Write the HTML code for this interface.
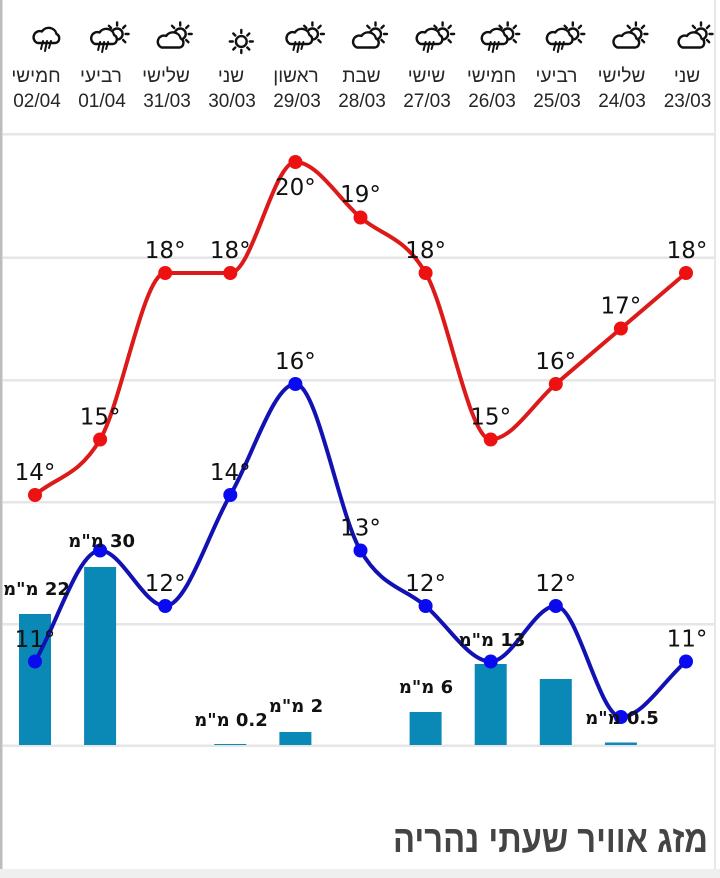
<!DOCTYPE html>
<html><head><meta charset="utf-8">
<style>
html,body{margin:0;padding:0;background:#fff;}
body{width:720px;height:878px;position:relative;overflow:hidden;}
svg{position:absolute;left:0;top:0;}
.pl{position:absolute;width:120px;text-align:center;font-family:"DejaVu Sans","Liberation Sans",sans-serif;font-weight:bold;font-size:18px;line-height:20px;color:#111;white-space:nowrap;}
</style></head>
<body>
<svg width="720" height="878" viewBox="0 0 720 878" xmlns="http://www.w3.org/2000/svg">
<defs>
<path id="cloud" d="M -9.5 0 H 8.5 A 4.8 4.8 0 0 0 9.5 -9 A 8 8 0 0 0 -5 -11.5 A 5.8 5.8 0 0 0 -9.5 0 Z" fill="#fff" stroke="#111" stroke-width="2.4" stroke-linejoin="round"/>
<g id="sunrays" stroke="#111" stroke-width="2.4" stroke-linecap="round">
<line x1="0" y1="-8.5" x2="0" y2="-11.5"/>
<line x1="6" y1="-6" x2="8.2" y2="-8.2"/>
<line x1="8.5" y1="0" x2="11.5" y2="0"/>
<line x1="6" y1="6" x2="8.2" y2="8.2"/>
<line x1="-6" y1="-6" x2="-8.2" y2="-8.2"/>
</g>
<g id="suncloud">
<circle cx="15" cy="34" r="5.5" fill="none" stroke="#111" stroke-width="2.4"/>
<use href="#sunrays" x="15" y="34"/>
<use href="#cloud" x="6" y="47.5"/>
</g>
<g id="rainsun">
<circle cx="17" cy="34" r="5.5" fill="none" stroke="#111" stroke-width="2.4"/>
<use href="#sunrays" x="17" y="34"/>
<use href="#cloud" x="4.5" y="44"/>
<g stroke="#111" stroke-width="2" stroke-linecap="round">
<line x1="0" y1="42" x2="-2" y2="50"/>
<line x1="4" y1="42" x2="2" y2="52"/>
<line x1="8" y1="42" x2="6" y2="49"/>
</g>
</g>
<g id="rain">
<use href="#cloud" x="12" y="43"/>
<g stroke="#111" stroke-width="2" stroke-linecap="round">
<line x1="8" y1="41" x2="6" y2="49"/>
<line x1="12" y1="41" x2="10" y2="51"/>
<line x1="16" y1="41" x2="14" y2="48"/>
</g>
</g>
<g id="sun">
<circle cx="11" cy="41.5" r="5.4" fill="none" stroke="#111" stroke-width="2.4"/>
<g stroke="#111" stroke-width="2.4" stroke-linecap="round">
<line x1="11" y1="33" x2="11" y2="30"/>
<line x1="11" y1="50" x2="11" y2="53"/>
<line x1="2.5" y1="41.5" x2="-0.5" y2="41.5"/>
<line x1="19.5" y1="41.5" x2="22.5" y2="41.5"/>
<line x1="5" y1="35.5" x2="3" y2="33.5"/>
<line x1="17" y1="35.5" x2="19" y2="33.5"/>
<line x1="5" y1="47.5" x2="3" y2="49.5"/>
<line x1="17" y1="47.5" x2="19" y2="49.5"/>
</g>
</g>
</defs>

<!-- borders -->
<rect x="0" y="0" width="2.5" height="870" fill="#bdbdbd"/>
<rect x="714" y="0" width="2" height="870" fill="#e8e8e8"/>
<rect x="0" y="869" width="720" height="9" fill="#efefef"/>

<!-- gridlines -->
<g fill="#e6e6e6">
<rect x="3" y="133" width="711" height="2.5"/>
<rect x="3" y="256.5" width="711" height="2.5"/>
<rect x="3" y="379" width="711" height="2.5"/>
<rect x="3" y="501" width="711" height="2.5"/>
<rect x="3" y="623" width="711" height="2.5"/>
<rect x="3" y="744.5" width="711" height="2.5"/>
</g>

<!-- header icons -->
<use href="#rain" x="35" y="0"/>
<use href="#rainsun" x="100.1" y="0"/>
<use href="#suncloud" x="165.2" y="0"/>
<use href="#sun" x="230.3" y="0"/>
<use href="#rainsun" x="295.4" y="0"/>
<use href="#suncloud" x="360.5" y="0"/>
<use href="#rainsun" x="425.6" y="0"/>
<use href="#rainsun" x="490.7" y="0"/>
<use href="#rainsun" x="555.8" y="0"/>
<use href="#suncloud" x="620.9" y="0"/>
<use href="#suncloud" x="686" y="0"/>

<!-- header text -->
<g font-family="'Liberation Sans','DejaVu Sans',sans-serif" font-size="19" fill="#262626" text-anchor="middle">
<text x="36" y="82">חמישי</text>
<text x="101" y="82">רביעי</text>
<text x="166" y="82">שלישי</text>
<text x="231" y="82">שני</text>
<text x="296" y="82">ראשון</text>
<text x="361.5" y="82">שבת</text>
<text x="426.5" y="82">שישי</text>
<text x="491.5" y="82">חמישי</text>
<text x="556.5" y="82">רביעי</text>
<text x="621.5" y="82">שלישי</text>
<text x="687" y="82">שני</text>
<text x="37" y="107">02/04</text>
<text x="102" y="107">01/04</text>
<text x="167" y="107">31/03</text>
<text x="232" y="107">30/03</text>
<text x="297" y="107">29/03</text>
<text x="362" y="107">28/03</text>
<text x="427" y="107">27/03</text>
<text x="492" y="107">26/03</text>
<text x="557" y="107">25/03</text>
<text x="622" y="107">24/03</text>
<text x="687.5" y="107">23/03</text>
</g>

<!-- precipitation bars -->
<g fill="#0a89b6">
<rect x="19" y="614" width="32" height="131"/>
<rect x="84.1" y="567" width="32" height="178"/>
<rect x="214.3" y="744" width="32" height="1"/>
<rect x="279.4" y="732" width="32" height="13"/>
<rect x="409.6" y="712" width="32" height="33"/>
<rect x="474.7" y="664" width="32" height="81"/>
<rect x="539.8" y="679" width="32" height="66"/>
<rect x="604.9" y="742.5" width="32" height="2.5"/>
</g>

<!-- red line -->
<path fill="none" stroke="#dd1a1a" stroke-width="4" stroke-linejoin="round" d="
M 35 495
C 56.7 476.5 78.4 476.5 100.1 439.5
C 121.8 402.5 143.5 273 165.2 273
C 186.9 273 208.6 273 230.3 273
C 252 273 273.7 162 295.4 162
C 317.1 162 338.8 199 360.5 217.5
C 382.2 236 403.9 236 425.6 273
C 447.3 310 469 439.5 490.7 439.5
C 512.4 439.5 534.1 402.5 555.8 384
C 577.5 365.5 599.2 347 620.9 328.5
C 642.6 310 664.3 291.5 686 273"/>

<!-- blue line -->
<path fill="none" stroke="#1212b4" stroke-width="4" stroke-linejoin="round" d="
M 35 661.5
C 56.7 624.5 78.4 550.5 100.1 550.5
C 121.8 550.5 143.5 606 165.2 606
C 186.9 606 208.6 532 230.3 495
C 252 458 273.7 384 295.4 384
C 317.1 384 338.8 513.5 360.5 550.5
C 382.2 587.5 403.9 587.5 425.6 606
C 447.3 624.5 469 661.5 490.7 661.5
C 512.4 661.5 534.1 606 555.8 606
C 577.5 606 599.2 717 620.9 717
C 642.6 717 664.3 680 686 661.5"/>

<!-- red points -->
<g fill="#ee1111">
<circle cx="35" cy="495" r="7"/>
<circle cx="100.1" cy="439.5" r="7"/>
<circle cx="165.2" cy="273" r="7"/>
<circle cx="230.3" cy="273" r="7"/>
<circle cx="295.4" cy="162" r="7"/>
<circle cx="360.5" cy="217.5" r="7"/>
<circle cx="425.6" cy="273" r="7"/>
<circle cx="490.7" cy="439.5" r="7"/>
<circle cx="555.8" cy="384" r="7"/>
<circle cx="620.9" cy="328.5" r="7"/>
<circle cx="686" cy="273" r="7"/>
</g>
<!-- blue points -->
<g fill="#0a0af0">
<circle cx="35" cy="661.5" r="7"/>
<circle cx="100.1" cy="550.5" r="7"/>
<circle cx="165.2" cy="606" r="7"/>
<circle cx="230.3" cy="495" r="7"/>
<circle cx="295.4" cy="384" r="7"/>
<circle cx="360.5" cy="550.5" r="7"/>
<circle cx="425.6" cy="606" r="7"/>
<circle cx="490.7" cy="661.5" r="7"/>
<circle cx="555.8" cy="606" r="7"/>
<circle cx="620.9" cy="717" r="7"/>
<circle cx="686" cy="661.5" r="7"/>
</g>

<!-- temperature labels -->
<g font-family="'DejaVu Sans','Liberation Sans',sans-serif" font-size="23" fill="#111" text-anchor="middle">
<text x="35" y="480">14°</text>
<text x="100.1" y="424.5">15°</text>
<text x="165.2" y="258">18°</text>
<text x="230.3" y="258">18°</text>
<text x="295.4" y="195">20°</text>
<text x="360.5" y="202">19°</text>
<text x="425.6" y="258">18°</text>
<text x="490.7" y="424.5">15°</text>
<text x="555.8" y="369">16°</text>
<text x="620.9" y="313.5">17°</text>
<text x="687" y="258">18°</text>

<text x="35" y="647">11°</text>
<text x="165.2" y="591">12°</text>
<text x="230.3" y="480">14°</text>
<text x="295.4" y="369">16°</text>
<text x="360.5" y="535.5">13°</text>
<text x="425.6" y="591">12°</text>
<text x="555.8" y="591">12°</text>
<text x="687" y="646.5">11°</text>
</g>

<!-- title -->
<text x="708" y="852" text-anchor="end" font-family="'Liberation Sans','DejaVu Sans',sans-serif" font-weight="bold" font-size="38" fill="#444" textLength="315" lengthAdjust="spacingAndGlyphs">מזג אוויר שעתי נהריה</text>
</svg>

<!-- precipitation labels -->
<div class="pl" dir="rtl" style="left:-23.5px;top:580px;">22 מ"מ</div>
<div class="pl" dir="rtl" style="left:41.7px;top:532px;">30 מ"מ</div>
<div class="pl" dir="rtl" style="left:171px;top:711px;">0.2 מ"מ</div>
<div class="pl" dir="rtl" style="left:236px;top:697px;">2 מ"מ</div>
<div class="pl" dir="rtl" style="left:366px;top:678px;">6 מ"מ</div>
<div class="pl" dir="rtl" style="left:432px;top:631px;">13 מ"מ</div>
<div class="pl" dir="rtl" style="left:562px;top:709px;">0.5 מ"מ</div>
</body></html>
